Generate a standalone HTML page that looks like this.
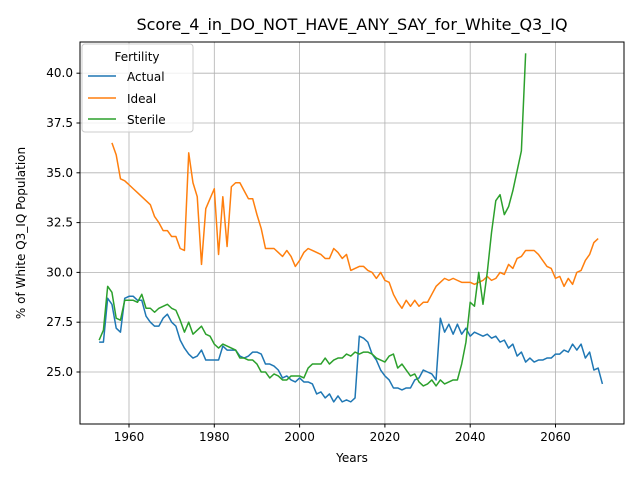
<!DOCTYPE html>
<html><head><meta charset="utf-8"><style>
body{margin:0;background:#fff;font-family:"Liberation Sans","DejaVu Sans",sans-serif}
</style></head><body>
<svg id="chart" width="640" height="480" xmlns="http://www.w3.org/2000/svg" font-family="DejaVu Sans, Liberation Sans, sans-serif">
<rect width="640" height="480" fill="#fff"/>
<text x="352" y="30" text-anchor="middle" font-size="16">Score_4_in_DO_NOT_HAVE_ANY_SAY_for_White_Q3_IQ</text>
<g id="grid"></g>
<g id="series"></g>
<rect x="80" y="42" width="544" height="382" fill="none" stroke="#000" stroke-width="1"/>
<g id="ticks" font-size="12"></g>
<text x="352" y="462" text-anchor="middle" font-size="12">Years</text>
<text transform="translate(25,233) rotate(-90)" text-anchor="middle" font-size="12">% of White Q3_IQ Population</text>
<g>
<rect x="82" y="44" width="111" height="88" rx="3" fill="#fff" fill-opacity="0.8" stroke="#ccc"/>
<text x="137" y="61" text-anchor="middle" font-size="12">Fertility</text>
<line x1="88" y1="76" x2="116" y2="76" stroke="#1f77b4" stroke-width="1.5"/>
<text x="127" y="81" font-size="12">Actual</text>
<line x1="88" y1="98" x2="116" y2="98" stroke="#ff7f0e" stroke-width="1.5"/>
<text x="127" y="103" font-size="12">Ideal</text>
<line x1="88" y1="119" x2="116" y2="119" stroke="#2ca02c" stroke-width="1.5"/>
<text x="127" y="124" font-size="12">Sterile</text>
</g>
</svg>
<script>
const xTicks=[1960,1980,2000,2020,2040,2060];
const yTicks=[25.0,27.5,30.0,32.5,35.0,37.5,40.0];
const actualStart=1953;
const actualValues=[26.5,26.5,28.7,28.4,27.2,27.0,28.7,28.8,28.8,28.6,28.6,27.8,27.5,27.3,27.3,27.7,27.9,27.5,27.3,26.6,26.2,25.9,25.7,25.8,26.1,25.6,25.6,25.6,25.6,26.3,26.1,26.1,26.1,25.8,25.7,25.8,26.0,26.0,25.9,25.4,25.4,25.3,25.1,24.7,24.8,24.6,24.5,24.7,24.5,24.5,24.4,23.9,24.0,23.7,23.9,23.5,23.8,23.5,23.6,23.5,23.7,26.8,26.7,26.5,25.9,25.6,25.1,24.8,24.6,24.2,24.2,24.1,24.2,24.2,24.6,24.7,25.1,25.0,24.9,24.6,27.7,27.0,27.4,26.9,27.4,26.9,27.2,26.8,27.0,26.9,26.8,26.9,26.7,26.8,26.5,26.6,26.2,26.4,25.8,26.0,25.5,25.7,25.5,25.6,25.6,25.7,25.7,25.9,25.9,26.1,26.0,26.4,26.1,26.4,25.7,26.0,25.1,25.2,24.4];
const idealStart=1956;
const idealValues=[36.5,35.9,34.7,34.6,34.4,34.2,34.0,33.8,33.6,33.4,32.8,32.5,32.1,32.1,31.8,31.8,31.2,31.1,36.0,34.5,33.8,30.4,33.2,33.7,34.2,30.9,33.8,31.3,34.3,34.5,34.5,34.1,33.7,33.7,32.9,32.2,31.2,31.2,31.2,31.0,30.8,31.1,30.8,30.3,30.6,31.0,31.2,31.1,31.0,30.9,30.7,30.7,31.2,31.0,30.7,30.9,30.1,30.2,30.3,30.3,30.1,30.0,29.7,30.0,29.6,29.5,28.9,28.5,28.2,28.6,28.3,28.6,28.3,28.5,28.5,28.9,29.3,29.5,29.7,29.6,29.7,29.6,29.5,29.5,29.5,29.4,29.5,29.6,29.8,29.6,29.7,30.0,29.9,30.4,30.2,30.7,30.8,31.1,31.1,31.1,30.9,30.6,30.3,30.2,29.7,29.8,29.3,29.7,29.4,30.0,30.1,30.6,30.9,31.5,31.7];
const sterileStart=1953;
const sterileValues=[26.6,27.1,29.3,29.0,27.7,27.6,28.6,28.6,28.6,28.5,28.9,28.2,28.2,28.0,28.2,28.3,28.4,28.2,28.1,27.6,27.0,27.5,26.9,27.1,27.3,26.9,26.8,26.4,26.2,26.4,26.3,26.2,26.1,25.7,25.7,25.6,25.6,25.4,25.0,25.0,24.7,24.9,24.8,24.6,24.6,24.8,24.8,24.8,24.7,25.2,25.4,25.4,25.4,25.7,25.4,25.6,25.7,25.7,25.9,25.8,26.0,25.9,26.0,26.0,25.9,25.7,25.6,25.5,25.8,25.9,25.2,25.4,25.1,24.8,24.9,24.5,24.3,24.4,24.6,24.3,24.6,24.4,24.5,24.6,24.6,25.4,26.5,28.5,28.3,30.0,28.4,30.0,32.0,33.6,33.9,32.9,33.3,34.1,35.1,36.1,41.0];
const NS='http://www.w3.org/2000/svg';
function xs(y){return 129+(y-1960)*(85.3/20);}
function ys(v){return 372-(v-25)*(49.8/2.5);}
const grid=document.getElementById('grid'),ticks=document.getElementById('ticks'),ser=document.getElementById('series');
function mk(tag,attrs,parent){const e=document.createElementNS(NS,tag);for(const k in attrs)e.setAttribute(k,attrs[k]);parent.appendChild(e);return e;}
xTicks.forEach(t=>{const x=xs(t);
 const g=mk('line',{x1:x,x2:x,y1:42,y2:424,stroke:'#b0b0b0','stroke-width':0.8},grid);
 
 
 mk('line',{x1:x,x2:x,y1:424,y2:427.5,stroke:'#000'},ticks);
 const tx=mk('text',{x:x,y:441,'text-anchor':'middle'},ticks);tx.textContent=t;
 
 });
yTicks.forEach(t=>{const y=ys(t);
 const g=mk('line',{x1:80,x2:624,y1:y,y2:y,stroke:'#b0b0b0','stroke-width':0.8},grid);
 
 
 mk('line',{x1:76.5,x2:80,y1:y,y2:y,stroke:'#000'},ticks);
 const tx=mk('text',{x:73,y:y+4,'text-anchor':'end'},ticks);tx.textContent=t.toFixed(1);
 
 });
function line(start,vals,color,name){
 const d=vals.map((v,i)=>(i?'L':'M')+xs(start+i).toFixed(2)+','+ys(v).toFixed(2)).join('');
 const p=mk('path',{d:d,fill:'none',stroke:color,'stroke-width':1.5,'stroke-linejoin':'round'},ser);
 
 }
line(actualStart,actualValues,'#1f77b4','actual-line');
line(idealStart,idealValues,'#ff7f0e','ideal-line');
line(sterileStart,sterileValues,'#2ca02c','sterile-line');
</script>
</body></html>
